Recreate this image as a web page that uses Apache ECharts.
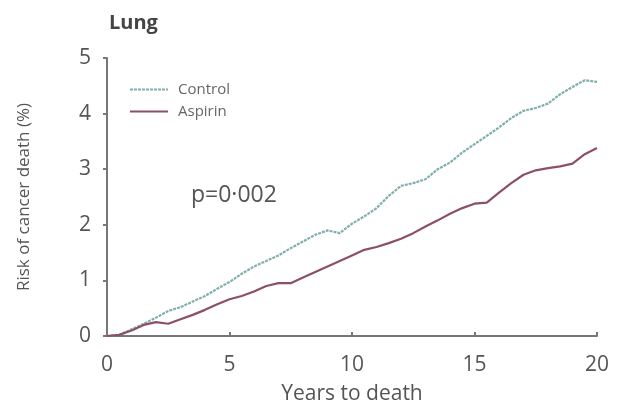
<!DOCTYPE html>
<html>
<head>
<meta charset="utf-8">
<script src="https://cdn.jsdelivr.net/npm/echarts@6/dist/echarts.min.js"></script>
<style>
  html, body { margin: 0; padding: 0; background: #fff; }
  #chart { width: 623px; height: 406px; }
</style>
</head>
<body>
<div id="chart"></div>
<script>
// Cumulative risk of lung cancer death by years to death
const years = [0, 0.5, 1, 1.5, 2, 2.5, 3, 3.5, 4, 4.5, 5, 5.5, 6, 6.5, 7, 7.5, 8, 8.5, 9, 9.5,
  10, 10.5, 11, 11.5, 12, 12.5, 13, 13.5, 14, 14.5, 15, 15.5, 16, 16.5, 17, 17.5, 18, 18.5, 19, 19.5, 20];
const controlRisk = [0, 0.02, 0.12, 0.22, 0.33, 0.45, 0.52, 0.62, 0.72, 0.85, 0.97, 1.12, 1.25, 1.35, 1.45, 1.58, 1.70, 1.82, 1.90, 1.85,
  2.02, 2.15, 2.30, 2.52, 2.70, 2.75, 2.82, 3.00, 3.12, 3.30, 3.45, 3.60, 3.75, 3.92, 4.05, 4.10, 4.18, 4.35, 4.48, 4.60, 4.57];
const aspirinRisk = [0, 0.02, 0.10, 0.20, 0.25, 0.22, 0.30, 0.38, 0.47, 0.57, 0.66, 0.72, 0.80, 0.90, 0.95, 0.95, 1.05, 1.15, 1.25, 1.35,
  1.45, 1.55, 1.60, 1.67, 1.75, 1.85, 1.97, 2.08, 2.20, 2.30, 2.38, 2.40, 2.58, 2.75, 2.90, 2.98, 3.02, 3.05, 3.10, 3.27, 3.38];
const xTicks = [0, 5, 10, 15, 20];
const yTicks = [0, 1, 2, 3, 4, 5];
const pValueText = 'p=0·002';

const pair = (xs, ys) => xs.map((x, i) => [x, ys[i]]);
const textColor = '#555';
const axisColor = '#777';
const font = 'Open Sans';

const chart = echarts.init(document.getElementById('chart'));
chart.setOption({
  animation: false,
  title: {
    text: 'Lung',
    left: 104, top: 8,
    textStyle: { fontFamily: font, fontSize: 20, fontWeight: 'bold', color: '#444' }
  },
  legend: {
    left: 124, top: 77,
    orient: 'vertical',
    itemWidth: 38, itemHeight: 14, itemGap: 7,
    itemStyle: { opacity: 0 },
    textStyle: { fontFamily: font, fontSize: 15, color: '#666', padding: [0, 0, 0, 5] },
    data: ['Control', 'Aspirin']
  },
  grid: { left: 107, right: 26, top: 58, bottom: 70, outerBoundsMode: 'none' },
  xAxis: {
    type: 'value', min: xTicks[0], max: xTicks[xTicks.length - 1], interval: 5,
    name: 'Years to death', nameLocation: 'middle', nameGap: 48,
    nameTextStyle: { fontFamily: font, fontSize: 21, color: textColor },
    axisLine: { lineStyle: { color: axisColor, width: 2 } },
    axisTick: { inside: true, length: 4, lineStyle: { color: axisColor, width: 2 } },
    axisLabel: { fontFamily: font, fontSize: 21, color: textColor, margin: 19 },
    splitLine: { show: false }
  },
  yAxis: {
    type: 'value', min: yTicks[0], max: yTicks[yTicks.length - 1], interval: 1,
    name: 'Risk of cancer death (%)', nameLocation: 'middle', nameGap: 74, nameRotate: 90,
    nameTextStyle: { fontFamily: font, fontSize: 17, color: textColor },
    axisLine: { show: true, lineStyle: { color: axisColor, width: 2 } },
    axisTick: { show: true, length: 4, lineStyle: { color: axisColor, width: 2 } },
    axisLabel: { fontFamily: font, fontSize: 21, color: textColor, margin: 16 },
    splitLine: { show: false }
  },
  graphic: [{
    type: 'text', left: 191, top: 184,
    style: { text: pValueText, font: '23px "Open Sans"', fill: '#555' }
  }],
  series: [
    {
      name: 'Control', type: 'line', symbol: 'none',
      data: pair(years, controlRisk),
      lineStyle: { color: '#7fb0ad', width: 2.2, type: [3, 1] },
      itemStyle: { color: '#7fb0ad' }
    },
    {
      name: 'Aspirin', type: 'line', symbol: 'none',
      data: pair(years, aspirinRisk),
      lineStyle: { color: '#8c5066', width: 2.2 },
      itemStyle: { color: '#8c5066' }
    }
  ]
});
</script>
</body>
</html>
